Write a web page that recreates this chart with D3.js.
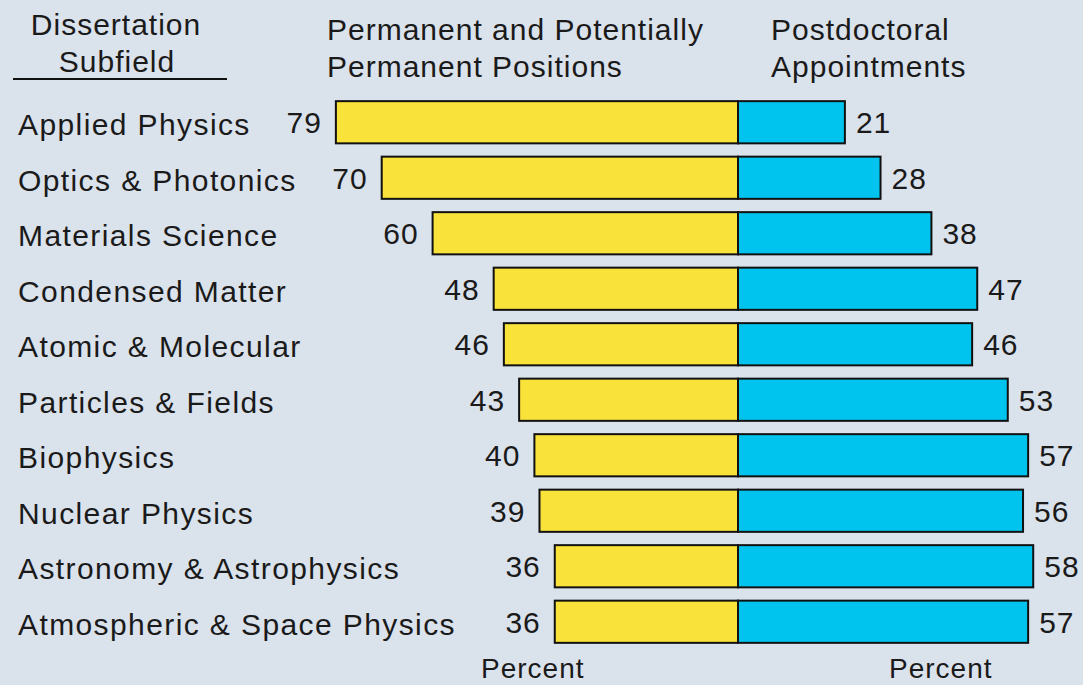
<!DOCTYPE html>
<html>
<head>
<meta charset="utf-8">
<script src="https://cdn.jsdelivr.net/npm/d3@7"></script>
<style>
  html, body { margin: 0; padding: 0; background: #dae2ec; }
  svg text { font-family: "Liberation Sans", Arial, sans-serif; fill: #1a1a1a; font-size: 30px; letter-spacing: 1px; }
</style>
</head>
<body>
<script>
// dissertation subfields, top to bottom
var subfields = ["Applied Physics", "Optics & Photonics", "Materials Science", "Condensed Matter",
  "Atomic & Molecular", "Particles & Fields", "Biophysics", "Nuclear Physics",
  "Astronomy & Astrophysics", "Atmospheric & Space Physics"];
// percent in permanent / potentially permanent positions
var permanent = [79, 70, 60, 48, 46, 43, 40, 39, 36, 36];
// percent in postdoctoral appointments
var postdoc = [21, 28, 38, 47, 46, 53, 57, 56, 58, 57];

var W = 1083, H = 685;
var center = 738;

var svg = d3.select("body").append("svg")
  .attr("width", W)
  .attr("height", H);

svg.append("rect").attr("width", W).attr("height", H).attr("fill", "#dae2ec");

var y = d3.scaleBand()
  .domain(subfields)
  .range([94.5, 649.5])
  .paddingInner(0.24)
  .paddingOuter(0.12);

// left goes leftwards from center, right goes rightwards
var xl = d3.scaleLinear().domain([0, 100]).range([center, center - 509]);
var xr = d3.scaleLinear().domain([0, 100]).range([center, center + 509]);

var rows = subfields.map(function(d, i) {
  return {name: d, perm: permanent[i], post: postdoc[i]};
});

var g = svg.selectAll("g.row").data(rows).enter()
  .append("g").attr("class", "row");

// yellow bars
g.append("rect")
  .attr("x", d => xl(d.perm))
  .attr("y", d => y(d.name))
  .attr("width", d => xl(0) - xl(d.perm))
  .attr("height", y.bandwidth())
  .attr("fill", "#f9e23a")
  .attr("stroke", "#111")
  .attr("stroke-width", 2);

// blue bars
g.append("rect")
  .attr("x", xr(0))
  .attr("y", d => y(d.name))
  .attr("width", d => xr(d.post) - xr(0))
  .attr("height", y.bandwidth())
  .attr("fill", "#00c4ee")
  .attr("stroke", "#111")
  .attr("stroke-width", 2);

// value labels
g.append("text")
  .attr("x", d => xl(d.perm) - 14)
  .attr("y", d => y(d.name) + y.bandwidth() / 2 + 11)
  .attr("text-anchor", "end")
  .text(d => d.perm);

g.append("text")
  .attr("x", d => xr(d.post) + 11)
  .attr("y", d => y(d.name) + y.bandwidth() / 2 + 11)
  .text(d => d.post);

// subfield names
g.append("text")
  .attr("x", 18)
  .attr("y", d => y(d.name) + y.bandwidth() / 2 + 13)
  .style("letter-spacing", "1.4px")
  .text(d => d.name);

// headers
svg.append("text").attr("x", 116).attr("y", 35).attr("text-anchor", "middle").text("Dissertation");
svg.append("text").attr("x", 117).attr("y", 72).attr("text-anchor", "middle").text("Subfield");
svg.append("line")
  .attr("x1", 13).attr("x2", 227)
  .attr("y1", 79).attr("y2", 79)
  .attr("stroke", "#111").attr("stroke-width", 2);

svg.append("text").attr("x", 327).attr("y", 40).text("Permanent and Potentially");
svg.append("text").attr("x", 327).attr("y", 77).text("Permanent Positions");
svg.append("text").attr("x", 771).attr("y", 40).text("Postdoctoral");
svg.append("text").attr("x", 771).attr("y", 77).text("Appointments");

// axis captions (sit at the very bottom edge)
svg.append("text").attr("x", 481).attr("y", 678).style("font-size", "28px").text("Percent");
svg.append("text").attr("x", 889).attr("y", 678).style("font-size", "28px").text("Percent");
</script>
</body>
</html>
